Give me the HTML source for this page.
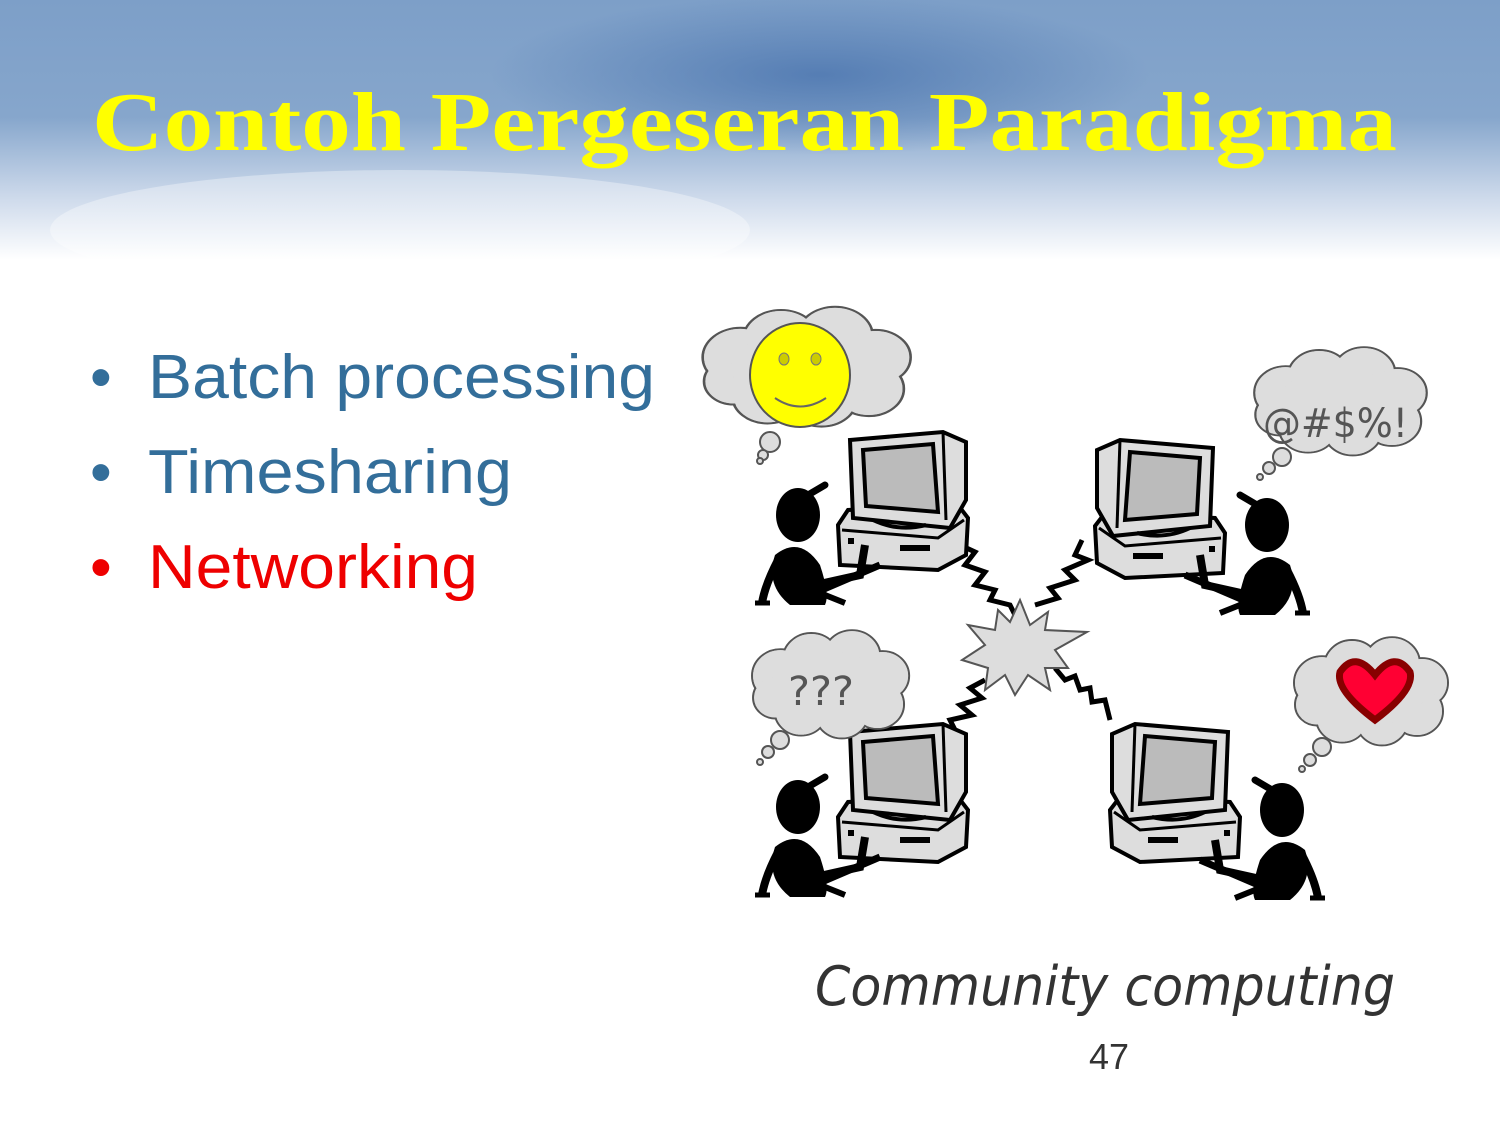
<!DOCTYPE html>
<html><head><meta charset="utf-8"><style>
html,body{margin:0;padding:0;background:#fff}
svg{display:block}
</style></head><body>
<svg width="1500" height="1125" viewBox="0 0 1500 1125" xmlns="http://www.w3.org/2000/svg">
<defs>
<linearGradient id="hg" x1="0" y1="0" x2="0" y2="1">
<stop offset="0" stop-color="#7d9fc8"/>
<stop offset="0.45" stop-color="#86a6cc"/>
<stop offset="0.75" stop-color="#cbd8ea"/>
<stop offset="1" stop-color="#ffffff"/>
</linearGradient>
<radialGradient id="dk" cx="0.5" cy="0.5" r="0.5">
<stop offset="0" stop-color="#4a74ae" stop-opacity="0.8"/>
<stop offset="1" stop-color="#4a74ae" stop-opacity="0"/>
</radialGradient>
<g id="comp">
<path d="M0,95 L10,80 L120,75 L130,88 L128,125 L100,140 L2,135 Z" fill="#ddd" stroke="#000" stroke-width="4"/>
<path d="M4,100 L100,108 L126,90" fill="none" stroke="#000" stroke-width="3"/>
<rect x="62" y="115" width="30" height="6" fill="#000"/>
<rect x="10" y="108" width="6" height="6" fill="#000"/>
<path d="M12,10 L105,2 L128,12 L128,70 L112,98 L15,88 Z" fill="#ddd" stroke="#000" stroke-width="4"/>
<path d="M25,20 L95,14 L100,82 L28,76 Z" fill="#bbb" stroke="#000" stroke-width="4"/>
<path d="M105,2 L108,90" stroke="#000" stroke-width="3"/>
<path d="M35,90 Q60,102 88,95" fill="none" stroke="#000" stroke-width="4"/>
</g>
<g id="pers">
<ellipse cx="28" cy="10" rx="22" ry="27" fill="#000"/>
<path d="M38,-10 L55,-20" stroke="#000" stroke-width="7" stroke-linecap="round"/>
<path d="M5,50 Q30,30 50,60 Q60,90 55,100 L20,100 Q-5,80 5,50 Z" fill="#000"/>
<path d="M8,55 Q-5,80 -8,98" stroke="#000" stroke-width="8" fill="none"/>
<path d="M45,80 L90,70 L95,40" stroke="#000" stroke-width="8" fill="none"/>
<path d="M40,90 L110,60" stroke="#000" stroke-width="7" fill="none"/>
<path d="M55,90 L75,98" stroke="#000" stroke-width="6" fill="none"/>
<path d="M-15,98 L0,98" stroke="#000" stroke-width="5"/>
</g>
<g id="cloud">
<g fill="#ddd" stroke="#555" stroke-width="2">
<circle cx="30" cy="45" r="28"/><circle cx="60" cy="28" r="28"/><circle cx="100" cy="25" r="28"/>
<circle cx="130" cy="45" r="26"/><circle cx="125" cy="75" r="26"/><circle cx="90" cy="85" r="26"/>
<circle cx="50" cy="82" r="26"/><circle cx="25" cy="68" r="22"/>
</g>
<g fill="#ddd">
<circle cx="30" cy="45" r="27"/><circle cx="60" cy="28" r="27"/><circle cx="100" cy="25" r="27"/>
<circle cx="130" cy="45" r="25"/><circle cx="125" cy="75" r="25"/><circle cx="90" cy="85" r="25"/>
<circle cx="50" cy="82" r="25"/><circle cx="25" cy="68" r="21"/><ellipse cx="78" cy="55" rx="55" ry="35"/>
</g>
</g>
</defs>
<rect width="1500" height="1125" fill="#fff"/>
<rect width="1500" height="260" fill="url(#hg)"/>
<ellipse cx="820" cy="75" rx="330" ry="80" fill="url(#dk)"/>
<ellipse cx="400" cy="230" rx="350" ry="60" fill="#fff" opacity="0.35"/>
<text x="92" y="150" textLength="1305" lengthAdjust="spacingAndGlyphs" font-family="Liberation Serif, serif" font-weight="bold" font-size="84" fill="#ffff00">Contoh Pergeseran Paradigma</text>

<g font-family="Liberation Sans, sans-serif" font-size="62">
<text x="90" y="398" fill="#336e9a">•</text>
<text x="148" y="398" textLength="507" lengthAdjust="spacingAndGlyphs" fill="#336e9a">Batch processing</text>
<text x="90" y="493" fill="#336e9a">•</text>
<text x="148" y="493" textLength="364" lengthAdjust="spacingAndGlyphs" fill="#336e9a">Timesharing</text>
<text x="90" y="588" fill="#ee0000">•</text>
<text x="148" y="588" textLength="330" lengthAdjust="spacingAndGlyphs" fill="#ee0000">Networking</text>
</g>

<g fill="none" stroke="#000" stroke-width="5">
<polyline points="960,545 975,552 965,565 985,572 975,585 995,590 990,600 1010,605 1015,615"/>
<polyline points="1082,540 1075,555 1088,560 1065,570 1075,580 1050,588 1058,598 1035,605"/>
<polyline points="985,680 970,688 982,698 960,705 972,715 950,720 955,730"/>
<polyline points="1055,668 1065,680 1075,676 1080,690 1090,688 1092,702 1105,700 1110,720"/>
</g>
<polygon points="1020,600 1030,625 1048,612 1045,630 1087,632 1055,650 1068,668 1045,668 1050,690 1028,675 1015,695 1005,675 985,690 988,668 962,660 985,645 968,625 995,630 998,610 1010,622" fill="#ddd" stroke="#555" stroke-width="2"/>

<use href="#comp" x="838" y="430"/>
<use href="#comp" x="1092" y="438" transform="translate(2317,0) scale(-1,1)"/>
<use href="#comp" x="838" y="722"/>
<use href="#comp" x="1108" y="722" transform="translate(2348,0) scale(-1,1)"/>

<use href="#pers" x="770" y="505"/>
<use href="#pers" transform="translate(1295,515) scale(-1,1)"/>
<use href="#pers" x="770" y="797"/>
<use href="#pers" transform="translate(1310,800) scale(-1,1)"/>

<use href="#cloud" transform="translate(700,310) scale(1.35,1.05)"/>
<g fill="#ddd" stroke="#555" stroke-width="2"><circle cx="770" cy="442" r="10"/><circle cx="763" cy="455" r="5"/><circle cx="760" cy="461" r="3"/></g>
<ellipse cx="800" cy="375" rx="50" ry="52" fill="#ffff00" stroke="#555" stroke-width="2"/>
<ellipse cx="784" cy="359" rx="5" ry="6" fill="#cccc00" stroke="#777"/>
<ellipse cx="816" cy="359" rx="5" ry="6" fill="#cccc00" stroke="#777"/>
<path d="M775,398 Q800,415 826,398" fill="none" stroke="#666" stroke-width="2"/>

<use href="#cloud" transform="translate(1252,350) scale(1.12,0.95)"/>
<g fill="#ddd" stroke="#555" stroke-width="2"><circle cx="1282" cy="457" r="9"/><circle cx="1269" cy="468" r="6"/><circle cx="1260" cy="477" r="3"/></g>
<text x="1263" y="437" font-family="DejaVu Sans, sans-serif" font-size="40" fill="#555" textLength="145" lengthAdjust="spacingAndGlyphs">@#$%!</text>

<use href="#cloud" transform="translate(750,633) scale(1.02,0.95)"/>
<g fill="#ddd" stroke="#555" stroke-width="2"><circle cx="780" cy="740" r="9"/><circle cx="768" cy="752" r="6"/><circle cx="760" cy="762" r="3"/></g>
<text x="788" y="705" font-family="DejaVu Sans, sans-serif" font-size="40" fill="#555" textLength="66" lengthAdjust="spacingAndGlyphs">???</text>

<use href="#cloud" transform="translate(1292,640) scale(1.0,0.95)"/>
<g fill="#ddd" stroke="#555" stroke-width="2"><circle cx="1322" cy="747" r="9"/><circle cx="1310" cy="760" r="6"/><circle cx="1302" cy="769" r="3"/></g>
<path d="M1375,675 Q1395,650 1410,672 Q1415,690 1375,720 Q1335,690 1340,672 Q1355,650 1375,675 Z" fill="#ff0033" stroke="#880000" stroke-width="7"/>

<text x="815" y="1005" textLength="580" lengthAdjust="spacingAndGlyphs" font-family="DejaVu Sans, sans-serif" font-style="italic" font-size="54" fill="#333">Community computing</text>
<text x="1089" y="1069" font-family="Liberation Sans, sans-serif" font-size="36" fill="#333">47</text>
</svg>
</body></html>
